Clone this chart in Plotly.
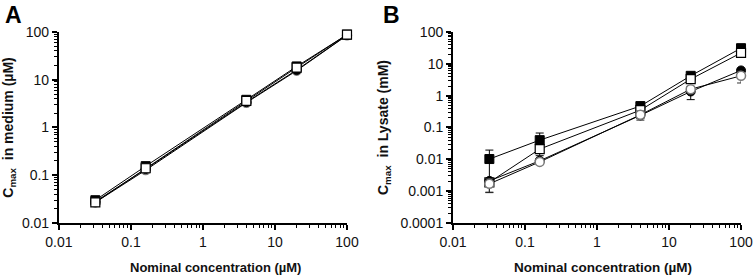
import plotly.graph_objects as go

# Nominal concentrations (µM)
x_nominal = [0.032, 0.16, 4, 20, 100]

# Panel A: Cmax in medium (µM)
a_filled_sq = [0.030, 0.155, 3.8, 19, 88]
a_open_sq = [0.027, 0.140, 3.6, 18, 88]
a_filled_ci = [0.028, 0.135, 3.4, 16, 86]
a_open_ci = [0.027, 0.128, 3.3, 15.5, 85]

# Panel B: Cmax in lysate (mM)
b_filled_sq = [0.0102, 0.040, 0.47, 4.2, 31]
b_filled_sq_sd = [0.0093, 0.027, 0.05, 0.5, 3]
b_open_sq = [0.0019, 0.021, 0.35, 3.3, 22]
b_open_sq_sd = [0.0002, 0.004, 0.04, 0.4, 2]
b_filled_ci = [0.0021, 0.0090, 0.24, 1.35, 6.2]
b_filled_ci_sd = [0.0003, 0.001, 0.05, 0.6, 0.8]
b_open_ci = [0.0017, 0.0083, 0.25, 1.6, 4.2]
b_open_ci_sd = [0.00077, 0.0015, 0.08, 0.3, 1.7]

y_ticks_a = [0.01, 0.1, 1, 10, 100]
y_tick_labels_a = ["0.01", "0.1", "1", "10", "100"]
y_ticks_b = [0.0001, 0.001, 0.01, 0.1, 1, 10, 100]
y_tick_labels_b = ["0.0001", "0.001", "0.01", "0.1", "1", "10", "100"]
x_ticks = [0.01, 0.1, 1, 10, 100]
x_tick_labels = ["0.01", "0.1", "1", "10", "100"]

FONT = "Arial, Liberation Sans, sans-serif"

def minor_vals(decade_starts):
    return [d * k for d in decade_starts[:-1] for k in range(2, 10)]

styles = {
    "fsq": dict(symbol="square", color="black", line=dict(color="black", width=1)),
    "osq": dict(symbol="square", color="white", line=dict(color="black", width=1.2)),
    "fci": dict(symbol="circle", color="black", line=dict(color="black", width=1)),
    "oci": dict(symbol="circle", color="white", line=dict(color="#7a7a7a", width=1.5)),
}

fig = go.Figure()

def add(y, sty, xa, ya, sd=None, errc="black"):
    err = None
    if sd is not None:
        err = dict(type="data", array=sd, visible=True, color=errc, thickness=1, width=4)
    fig.add_trace(go.Scatter(
        x=x_nominal, y=y, mode="lines+markers", xaxis=xa, yaxis=ya,
        line=dict(color="black", width=1), cliponaxis=False,
        marker=dict(size=9, **styles[sty]),
        error_y=err, showlegend=False))

# Panel A
add(a_open_ci, "oci", "x", "y")
add(a_filled_ci, "fci", "x", "y")
add(a_filled_sq, "fsq", "x", "y")
add(a_open_sq, "osq", "x", "y")

# Panel B
add(b_filled_sq, "fsq", "x2", "y2", b_filled_sq_sd)
add(b_open_sq, "osq", "x2", "y2", b_open_sq_sd)
add(b_filled_ci, "fci", "x2", "y2", b_filled_ci_sd)
add(b_open_ci, "oci", "x2", "y2", b_open_ci_sd, errc="#333")

def minor(vals):
    return dict(ticks="outside", ticklen=3, tickcolor="black", tickwidth=1,
                tickmode="array", tickvals=vals, showgrid=False)

def xaxis(domain):
    return dict(domain=domain, type="log", range=[-2, 2], tickvals=x_ticks, ticktext=x_tick_labels,
                showline=True, linecolor="black", linewidth=2, ticks="outside", ticklen=5,
                tickwidth=1.5, tickcolor="black", showgrid=False, zeroline=False, automargin=False,
                minor=minor(minor_vals(x_ticks)), tickfont=dict(family=FONT, size=14, color="#111"))

def yaxis(domain, anchor, rng, tv, tt, title):
    return dict(domain=domain, anchor=anchor, type="log", range=rng, tickvals=tv, ticktext=tt,
                showline=True, linecolor="black", linewidth=2, ticks="outside", ticklen=5,
                tickwidth=1.5, tickcolor="black", showgrid=False, zeroline=False, automargin=False,
                minor=minor(minor_vals(tv)), tickfont=dict(family=FONT, size=14, color="#111"),
                title=dict(text=title, standoff=8, font=dict(family=FONT, size=14, color="#111")))

ydom = [0.195, 0.8845]
fig.update_layout(
    width=754, height=277,
    margin=dict(l=0, r=0, t=0, b=0),
    plot_bgcolor="white", paper_bgcolor="white",
    xaxis=dict(xaxis([0.0782, 0.4602]), anchor="y"),
    yaxis=yaxis(ydom, "x", [-2, 2], y_ticks_a, y_tick_labels_a,
                "<b>C<sub>max</sub>  in medium (µM)</b>"),
    xaxis2=dict(xaxis([0.6008, 0.9828]), anchor="y2"),
    yaxis2=yaxis(ydom, "x2", [-4, 2], y_ticks_b, y_tick_labels_b,
                 "<b>C<sub>max</sub>  in Lysate (mM)</b>"),
    annotations=[
        dict(text="<b>A</b>", x=3 / 754, y=1.0, xref="paper", yref="paper", xanchor="left",
             yanchor="top", showarrow=False, font=dict(family=FONT, size=23, color="black")),
        dict(text="<b>B</b>", x=381 / 754, y=1.0, xref="paper", yref="paper", xanchor="left",
             yanchor="top", showarrow=False, font=dict(family=FONT, size=23, color="black")),
        dict(text="<b>Nominal concentration (µM)</b>", x=215 / 754, y=10 / 277, xref="paper",
             yref="paper", xanchor="center", yanchor="middle", showarrow=False,
             font=dict(family=FONT, size=13, color="#111")),
        dict(text="<b>Nominal concentration (µM)</b>", x=603 / 754, y=10 / 277, xref="paper",
             yref="paper", xanchor="center", yanchor="middle", showarrow=False,
             font=dict(family=FONT, size=13.5, color="#111")),
    ],
)

fig.write_html("out.html", config={"displayModeBar": False})
with open("out.html", "r", encoding="utf-8") as f:
    html = f.read()
html = html.replace("<body>", '<body style="margin:0;padding:0;overflow:hidden">', 1)
with open("out.html", "w", encoding="utf-8") as f:
    f.write(html)
